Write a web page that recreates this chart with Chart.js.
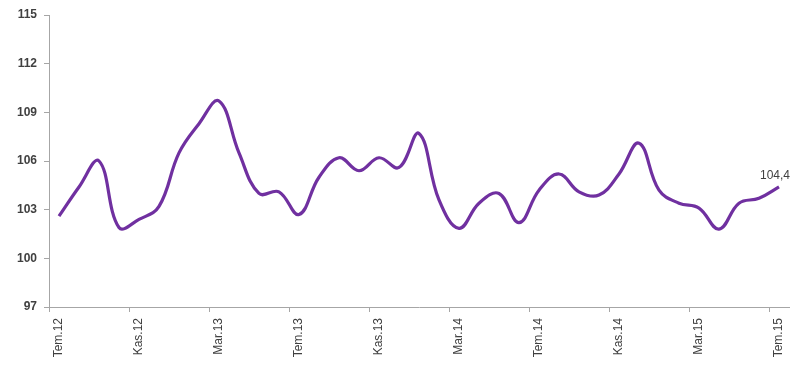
<!DOCTYPE html>
<html>
<head>
<meta charset="utf-8">
<script src="https://cdn.jsdelivr.net/npm/chart.js@4"></script>
<style>
  html, body { margin: 0; padding: 0; background: #fff; }
  #wrap { width: 800px; height: 365px; position: relative; }
</style>
</head>
<body>
<div id="wrap"><canvas id="chart"></canvas></div>
<script>
// ay etiketleri (Tem.12 - Tem.15)
const months = ['Oca', 'Şub', 'Mar', 'Nis', 'May', 'Haz', 'Tem', 'Ağu', 'Eyl', 'Eki', 'Kas', 'Ara'];
const labels = [];
for (let i = 0; i < 37; i++) {
    const m = (6 + i) % 12;
    const y = 12 + Math.floor((6 + i) / 12);
    labels.push(months[m] + '.' + y);
}

// endeks degerleri
const values = [
    102.6, 104.4, 106.0, 101.9, 102.4, 103.2, 106.5, 108.3, 109.7, 106.5,
    104.0, 104.1, 102.7, 105.0, 106.2, 105.4, 106.2, 105.6, 107.7, 103.6,
    101.85, 103.4, 104.0, 102.2, 104.2, 105.2, 104.1, 103.9, 105.2, 107.1,
    104.2, 103.4, 103.1, 101.8, 103.4, 103.7, 104.4
];

const yTicks = [97, 100, 103, 106, 109, 112, 115];
const lastLabel = '104,4';

const axisColor = '#a6a6a6';
const textColor = '#404040';

// son noktanin uzerine deger yazisi
const lastValuePlugin = {
    id: 'lastValue',
    afterDatasetsDraw(chart) {
        const meta = chart.getDatasetMeta(0);
        const pt = meta.data[meta.data.length - 1];
        const ctx = chart.ctx;
        ctx.save();
        ctx.font = '12px "Liberation Sans", Arial, sans-serif';
        ctx.fillStyle = textColor;
        ctx.textAlign = 'center';
        ctx.textBaseline = 'bottom';
        ctx.fillText(lastLabel, pt.x - 4, pt.y - 5);
        ctx.restore();
    }
};

new Chart(document.getElementById('chart').getContext('2d'), {
    type: 'line',
    data: {
        labels: labels,
        datasets: [{
            data: values,
            borderColor: '#7030a0',
            borderWidth: 3.2,
            tension: 0.4,
            pointRadius: 0,
            fill: false
        }]
    },
    options: {
        responsive: true,
        maintainAspectRatio: false,
        animation: false,
        layout: { padding: { left: 0, right: 11, top: 15, bottom: 0 } },
        plugins: {
            legend: { display: false },
            tooltip: { enabled: false }
        },
        scales: {
            x: {
                type: 'category',
                offset: true,
                afterFit(scale) { scale.height = 58; },
                border: { display: true, color: axisColor, width: 1 },
                grid: {
                    offset: true,
                    drawOnChartArea: false,
                    drawTicks: true,
                    tickLength: 5,
                    color: (c) => (c.index % 4 === 0 ? axisColor : 'rgba(0,0,0,0)')
                },
                ticks: {
                    autoSkip: false,
                    maxRotation: 90,
                    minRotation: 90,
                    padding: 6,
                    color: textColor,
                    font: { family: '"Liberation Sans", Arial, sans-serif', size: 12 },
                    callback: function (value, index) {
                        return index % 4 === 0 ? this.getLabelForValue(value) : '';
                    }
                }
            },
            y: {
                min: 97,
                max: 115,
                afterFit(scale) { scale.width = 49; },
                afterBuildTicks(scale) { scale.ticks = yTicks.map(v => ({ value: v })); },
                border: { display: true, color: axisColor, width: 1 },
                grid: {
                    drawOnChartArea: false,
                    drawTicks: true,
                    tickLength: 5,
                    color: axisColor
                },
                ticks: {
                    padding: 7,
                    color: textColor,
                    font: { family: '"Liberation Sans", Arial, sans-serif', size: 12, weight: 'bold' }
                }
            }
        }
    },
    plugins: [lastValuePlugin]
});
</script>
</body>
</html>
